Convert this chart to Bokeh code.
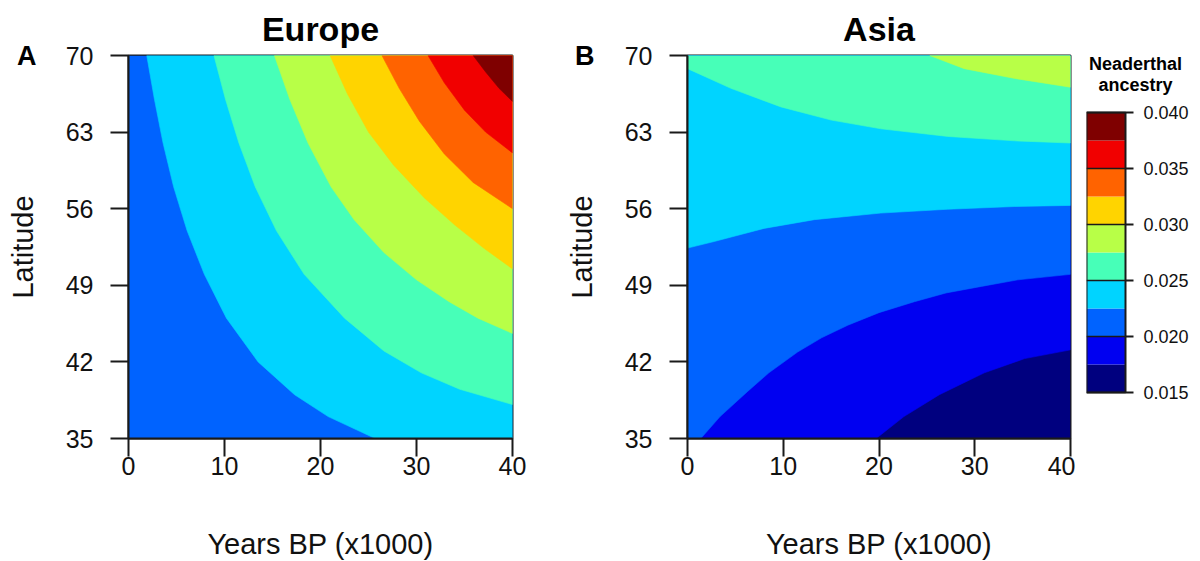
import math
from bokeh.plotting import figure
from bokeh.layouts import row
from bokeh.models import Range1d, FixedTicker, LinearAxis
from bokeh.core.properties import value
from bokeh.embed import file_html
from bokeh.resources import INLINE

# ---------------- data ----------------
year_lim = [0, 40]
lat_lim = [35, 70]
x_ticks = [0, 10, 20, 30, 40]
y_ticks = [35, 42, 49, 56, 63, 70]
levels = [0.015, 0.0175, 0.020, 0.0225, 0.025, 0.0275, 0.030, 0.0325, 0.035, 0.0375, 0.040]
colors = ["#00007F", "#0000F1", "#0063FF", "#00D4FF", "#47FFB8",
          "#B8FF47", "#FFD400", "#FF6300", "#F10000", "#7F0000"]
key_ticks = [0.015, 0.020, 0.025, 0.030, 0.035, 0.040]
key_title = ["Neaderthal", "ancestry"]

# Europe contour boundaries (years BP x1000, latitude)
eu_0225_x = [1.9, 2.7, 3.6, 4.7, 6.1, 7.9, 10.2, 13.5, 17.3, 20.8, 25.7]
eu_0225_y = [70, 66, 62, 58, 54, 50, 46, 42, 39, 37, 35]
eu_0250_x = [8.9, 10.1, 11.5, 13.2, 15.4, 18.3, 22.5, 26.6, 30.5, 34.5, 40]
eu_0250_y = [70, 66, 62, 58, 54, 50, 46, 43, 41, 39.5, 38.1]
eu_0275_x = [15.2, 16.8, 18.7, 21.1, 23.5, 26.6, 30.0, 33.4, 36.4, 40]
eu_0275_y = [70, 66, 62, 58, 55, 52, 49.5, 47.5, 46, 44.6]
eu_0300_x = [21.0, 22.8, 25.0, 27.6, 30.8, 34.0, 37.0, 40]
eu_0300_y = [70, 66.5, 63, 60, 57, 54.5, 52.4, 50.5]
eu_0325_x = [26.4, 28.2, 30.3, 32.9, 35.9, 40]
eu_0325_y = [70, 67, 64, 61, 58.4, 56]
eu_0350_x = [31.2, 32.9, 35.0, 37.2, 40]
eu_0350_y = [70, 67.5, 65, 63, 61.1]
eu_0375_x = [35.9, 37.2, 38.6, 40]
eu_0375_y = [70, 68.5, 67, 65.8]

# Asia contour boundaries
as_0175_x = [19.7, 22.6, 26.3, 31.0, 35.2, 40]
as_0175_y = [35, 37, 39, 41, 42.3, 43.1]
as_0200_x = [1.39, 3.4, 6.28, 8.5, 11.5, 14.0, 16.74, 20.0, 23.7, 27.0, 30.7, 34.5, 40]
as_0200_y = [35, 37, 39.3, 41, 42.9, 44.2, 45.35, 46.5, 47.5, 48.3, 48.9, 49.5, 50.0]
as_0225_x = [0, 2.78, 8.0, 13.25, 20.2, 27.2, 34.2, 40]
as_0225_y = [52.4, 53.0, 54.2, 55.0, 55.6, 55.95, 56.2, 56.3]
as_0250_x = [0, 4.53, 9.76, 15.0, 20.2, 27.2, 34.2, 40]
as_0250_y = [68.8, 67.0, 65.3, 64.1, 63.3, 62.6, 62.2, 62.0]
as_0275_x = [25.3, 28.9, 34.2, 40]
as_0275_y = [70, 68.8, 67.9, 67.1]

europe = [(0.0225, eu_0225_x, eu_0225_y), (0.025, eu_0250_x, eu_0250_y),
          (0.0275, eu_0275_x, eu_0275_y), (0.030, eu_0300_x, eu_0300_y),
          (0.0325, eu_0325_x, eu_0325_y), (0.035, eu_0350_x, eu_0350_y),
          (0.0375, eu_0375_x, eu_0375_y)]
asia = [(0.0175, as_0175_x, as_0175_y), (0.020, as_0200_x, as_0200_y),
        (0.0225, as_0225_x, as_0225_y), (0.025, as_0250_x, as_0250_y),
        (0.0275, as_0275_x, as_0275_y)]

FONT = "Liberation Sans"
INK = "#1a1a1a"
BORDER_TOP = 54
BORDER_BOTTOM = 122
FRAME_H = 383


def perim_t(x, y):
    x0, x1 = year_lim
    y0, y1 = lat_lim
    e = 1e-9
    if abs(y - y0) < e:
        return (x - x0) / (x1 - x0)
    if abs(x - x1) < e:
        return 1 + (y - y0) / (y1 - y0)
    if abs(y - y1) < e:
        return 2 + (x1 - x) / (x1 - x0)
    return 3 + (y1 - y) / (y1 - y0)


def region_above(xs, ys):
    """Close a boundary line along the frame edge (counter-clockwise) to get
    the region of higher values."""
    x0, x1 = year_lim
    y0, y1 = lat_lim
    corners = [(x0, y0), (x1, y0), (x1, y1), (x0, y1)]
    t_end = perim_t(xs[-1], ys[-1])
    t_start = perim_t(xs[0], ys[0])
    if t_start <= t_end:
        t_start += 4
    px, py = list(xs), list(ys)
    k = math.floor(t_end) + 1
    while k < t_start:
        cx, cy = corners[k % 4]
        px.append(cx)
        py.append(cy)
        k += 1
    return px, py


def band_color(level):
    i = min(range(len(levels)), key=lambda j: abs(levels[j] - level))
    return colors[i]


def panel(title, letter, bounds, base_color, left, right, fw, letter_standoff):
    p = figure(frame_width=fw, frame_height=FRAME_H,
               x_range=Range1d(*year_lim), y_range=Range1d(*lat_lim),
               output_backend="svg", toolbar_location=None,
               min_border_left=left, min_border_right=right,
               min_border_top=BORDER_TOP, min_border_bottom=BORDER_BOTTOM)
    p.background_fill_color = "white"
    p.border_fill_color = "white"
    p.quad(left=year_lim[0], right=year_lim[1], bottom=lat_lim[0], top=lat_lim[1],
           fill_color=base_color, line_color=None)
    for lev, xs, ys in bounds:
        px, py = region_above(xs, ys)
        p.patch(px, py, fill_color=band_color(lev), line_color=band_color(lev),
                line_width=0.6)
    p.grid.visible = False
    p.outline_line_color = INK
    p.outline_line_width = 2
    for ax in (p.xaxis, p.yaxis):
        ax.axis_line_color = INK
        ax.axis_line_width = 2
        ax.major_tick_line_color = INK
        ax.major_tick_line_width = 2
        ax.major_tick_out = 18
        ax.major_tick_in = 0
        ax.minor_tick_line_color = None
        ax.major_label_text_font = FONT
        ax.major_label_text_font_size = "25px"
        ax.major_label_text_color = "#111111"
        ax.axis_label_text_font = FONT
        ax.axis_label_text_font_size = "29px"
        ax.axis_label_text_font_style = "normal"
        ax.axis_label_text_color = "#111111"
    p.xaxis.ticker = FixedTicker(ticks=x_ticks)
    p.yaxis.ticker = FixedTicker(ticks=y_ticks)
    p.xaxis.axis_label = "Years BP (x1000)"
    p.yaxis.axis_label = "Latitude"
    p.xaxis.major_label_standoff = 0
    p.yaxis.major_label_standoff = 17
    p.xaxis.axis_label_standoff = 50
    p.yaxis.axis_label_standoff = 24
    p.title.text = title
    p.title.align = "center"
    p.title.text_font = FONT
    p.title.text_font_style = "bold"
    p.title.text_font_size = "34px"
    p.title.text_color = "black"
    p.title.standoff = 15
    # panel letter: an outer label-only axis whose single tick label sits at
    # the top of the latitude range, pulled inwards with a negative standoff
    letter_axis = LinearAxis(ticker=FixedTicker(ticks=[lat_lim[1]]),
                             major_label_overrides={lat_lim[1]: letter})
    letter_axis.axis_line_color = None
    letter_axis.major_tick_line_color = None
    letter_axis.major_tick_out = 0
    letter_axis.major_tick_in = 0
    letter_axis.minor_tick_line_color = None
    letter_axis.major_label_standoff = letter_standoff
    letter_axis.major_label_text_font = FONT
    letter_axis.major_label_text_font_style = "bold"
    letter_axis.major_label_text_font_size = "27px"
    letter_axis.major_label_text_color = "black"
    p.add_layout(letter_axis, "left")
    return p


p1 = panel("Europe", "A", europe, colors[2], 128, 50, 384, -33)
p2 = panel("Asia", "B", asia, colors[0], 125, 5, 383, -32)

# colour key: frame covers the key and its labels; the key spans x 0..1
key_px_top = 57      # px from frame top to key top
key_px_bottom = 46   # px from frame bottom to key bottom
key_px = FRAME_H - key_px_top - key_px_bottom
per_px = (levels[-1] - levels[0]) / key_px
key_w_px = 39
key_frame_w = 114
p3 = figure(frame_width=key_frame_w, frame_height=FRAME_H,
            x_range=Range1d(0, key_frame_w / key_w_px),
            y_range=Range1d(levels[0] - key_px_bottom * per_px,
                            levels[-1] + key_px_top * per_px),
            output_backend="svg", toolbar_location=None,
            y_axis_location=None, x_axis_location=None,
            min_border_left=11, min_border_right=0,
            min_border_top=BORDER_TOP, min_border_bottom=BORDER_BOTTOM)
p3.grid.visible = False
p3.outline_line_color = None
p3.quad(left=0, right=1, bottom=levels[:-1], top=levels[1:], fill_color=colors,
        line_color=None)
p3.segment(x0=0, x1=1, y0=key_ticks, y1=key_ticks, line_color=INK, line_width=1.5)
p3.quad(left=0, right=1, bottom=levels[0], top=levels[-1], fill_color=None,
        line_color=INK, line_width=2)
px1 = 1 / key_w_px
p3.segment(x0=1, x1=1 + 8 * px1, y0=key_ticks, y1=key_ticks, line_color=INK,
           line_width=2)
p3.text(x=1 + 18 * px1, y=key_ticks, text=["%.3f" % t for t in key_ticks],
        text_align="left", text_baseline="middle", text_font=value(FONT),
        text_font_size="18px", text_color="#111111")
p3.text(x=1 + 10 * px1, y=[levels[-1] + 49 * per_px, levels[-1] + 28 * per_px],
        text=key_title, text_align="center", text_baseline="middle",
        text_font=value(FONT), text_font_style="bold", text_font_size="18px",
        text_color="black")

layout = row(p1, p2, p3)
open("out.html", "w").write(file_html(layout, INLINE))
